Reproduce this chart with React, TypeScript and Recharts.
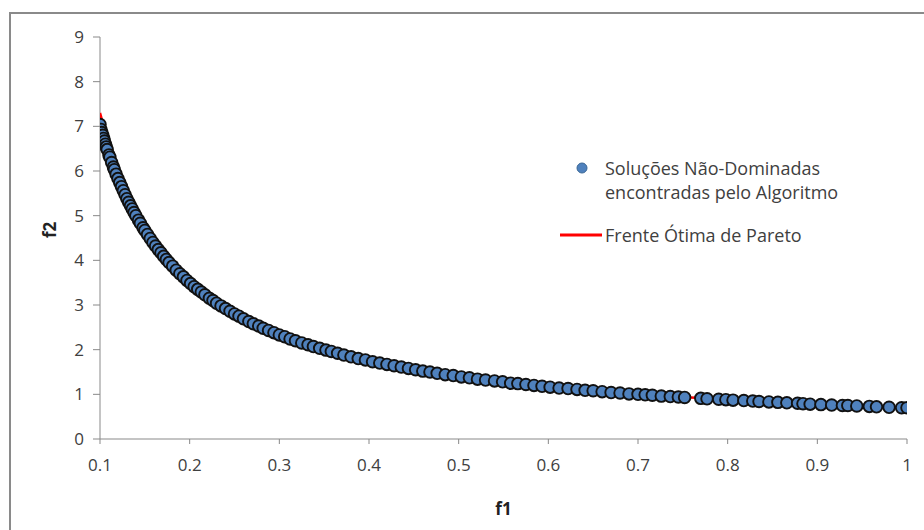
import { Scatter, ScatterChart, XAxis, YAxis } from 'recharts'

// non-dominated solutions
const solF1 = [
  0.100, 0.101, 0.102, 0.103, 0.104, 0.105, 0.106, 0.107, 0.108, 0.110,
  0.111, 0.113, 0.115, 0.116, 0.118, 0.120, 0.122, 0.124, 0.126, 0.128,
  0.130, 0.132, 0.134, 0.136, 0.138, 0.140, 0.143, 0.145, 0.148, 0.150,
  0.153, 0.156, 0.159, 0.162, 0.165, 0.168, 0.171, 0.174, 0.177, 0.181,
  0.185, 0.189, 0.193, 0.197, 0.201, 0.205, 0.209, 0.213, 0.217, 0.222,
  0.226, 0.230, 0.235, 0.240, 0.245, 0.250, 0.255, 0.260, 0.266, 0.271,
  0.277, 0.282, 0.288, 0.294, 0.300, 0.306, 0.312, 0.318, 0.325, 0.332,
  0.338, 0.345, 0.352, 0.358, 0.365, 0.372, 0.380, 0.388, 0.396, 0.404,
  0.412, 0.420, 0.428, 0.436, 0.444, 0.452, 0.460, 0.468, 0.476, 0.485,
  0.494, 0.503, 0.512, 0.521, 0.530, 0.540, 0.549, 0.558, 0.566, 0.575,
  0.584, 0.593, 0.602, 0.612, 0.622, 0.632, 0.641, 0.650, 0.660, 0.670,
  0.680, 0.690, 0.700, 0.708, 0.716, 0.726, 0.736, 0.745, 0.752, 0.770,
  0.777, 0.790, 0.798, 0.806, 0.818, 0.828, 0.835, 0.846, 0.856, 0.866,
  0.878, 0.884, 0.892, 0.904, 0.916, 0.928, 0.934, 0.944, 0.958, 0.966,
  0.980, 0.994, 1.000,
]
const solF2 = [
  7.04, 6.93, 6.86, 6.80, 6.73, 6.67, 6.60, 6.54, 6.48, 6.36,
  6.31, 6.19, 6.09, 6.03, 5.93, 5.83, 5.74, 5.65, 5.56, 5.47,
  5.38, 5.30, 5.22, 5.15, 5.07, 5.00, 4.90, 4.83, 4.73, 4.67,
  4.58, 4.49, 4.40, 4.32, 4.24, 4.17, 4.09, 4.02, 3.95, 3.87,
  3.78, 3.70, 3.63, 3.55, 3.48, 3.41, 3.35, 3.29, 3.23, 3.15,
  3.10, 3.04, 2.98, 2.92, 2.86, 2.80, 2.75, 2.69, 2.63, 2.58,
  2.53, 2.48, 2.43, 2.38, 2.33, 2.29, 2.24, 2.20, 2.15, 2.11,
  2.07, 2.03, 1.99, 1.96, 1.92, 1.88, 1.84, 1.80, 1.77, 1.73,
  1.70, 1.67, 1.64, 1.61, 1.58, 1.55, 1.52, 1.50, 1.47, 1.44,
  1.42, 1.39, 1.37, 1.34, 1.32, 1.30, 1.28, 1.25, 1.24, 1.22,
  1.20, 1.18, 1.16, 1.14, 1.13, 1.11, 1.09, 1.08, 1.06, 1.04,
  1.03, 1.01, 1.00, 0.99, 0.98, 0.96, 0.95, 0.94, 0.93, 0.91,
  0.90, 0.89, 0.88, 0.87, 0.86, 0.85, 0.84, 0.83, 0.82, 0.81,
  0.80, 0.79, 0.78, 0.77, 0.76, 0.75, 0.75, 0.74, 0.73, 0.72,
  0.71, 0.70, 0.70,
]

// optimal pareto front
const frontF1 = [0.1, 0.12, 0.15, 0.2, 0.25, 0.3, 0.4, 0.5, 0.6, 0.7, 0.8, 0.9, 1.0]
const frontF2 = [7.3, 5.83, 4.67, 3.5, 2.8, 2.33, 1.75, 1.4, 1.17, 1.0, 0.88, 0.78, 0.7]

const xTicks = [0.1, 0.2, 0.3, 0.4, 0.5, 0.6, 0.7, 0.8, 0.9, 1]
const yTicks = [0, 1, 2, 3, 4, 5, 6, 7, 8, 9]

const solutions = solF1.map((x, i) => ({ f1: x, f2: solF2[i] }))
const front = frontF1.map((x, i) => ({ f1: x, f2: frontF2[i] }))

const font = 'Open Sans, sans-serif'
const textColor = '#404040'
const axisColor = '#898989'

const Dot = (props: any) => (
  <circle cx={props.cx} cy={props.cy} r={5.8} fill="#4F81BD" stroke="#111" strokeWidth={1.9} />
)

const LegendBox = () => (
  <div style={{ fontFamily: font, fontSize: 18, color: textColor, lineHeight: '24px' }}>
    <div style={{ display: 'flex', alignItems: 'flex-start' }}>
      <svg width={50} height={24}>
        <circle cx={27} cy={12} r={5} fill="#4F81BD" stroke="#3A6796" strokeWidth={1} />
      </svg>
      <div>
        Soluções Não-Dominadas
        <br />
        encontradas pelo Algoritmo
      </div>
    </div>
    <div style={{ display: 'flex', alignItems: 'center', marginTop: 19 }}>
      <svg width={50} height={24}>
        <line x1={5} y1={12} x2={47} y2={12} stroke="#FF0000" strokeWidth={3} />
      </svg>
      <div>Frente Ótima de Pareto</div>
    </div>
  </div>
)

export default function App() {
  return (
    <div style={{ position: 'absolute', left: 0, top: 0, width: 924, height: 530, overflow: 'hidden', background: '#fff' }}>
      <div
        style={{
          position: 'absolute',
          left: 9,
          top: 12,
          width: 940,
          height: 540,
          border: '2px solid #8a8a8a',
        }}
      />
      <div style={{ position: 'absolute', left: 0, top: 0 }}>
        <ScatterChart width={924} height={530} margin={{ top: 37, right: 17, left: 40, bottom: 51 }}>
          <XAxis
            type="number"
            dataKey="f1"
            domain={[0.1, 1]}
            ticks={xTicks}
            allowDataOverflow
            height={40}
            stroke={axisColor}
            tickSize={5}
            tickMargin={15}
            tick={{ fill: textColor, fontSize: 17, fontFamily: font }}
            label={{ value: 'f1', position: 'insideBottom', offset: -36, fill: '#222', fontSize: 17, fontWeight: 'bold', fontFamily: font }}
          />
          <YAxis
            type="number"
            dataKey="f2"
            domain={[0, 9]}
            ticks={yTicks}
            width={60}
            stroke={axisColor}
            tickSize={7}
            tickMargin={9}
            tick={{ fill: textColor, fontSize: 17, fontFamily: font }}
            label={{ value: 'f2', angle: -90, position: 'insideLeft', offset: 0, dx: 10, fill: '#222', fontSize: 17, fontWeight: 'bold', fontFamily: font }}
          />
          <Scatter
            name="Frente Ótima de Pareto"
            data={front}
            line={{ stroke: '#FF0000', strokeWidth: 2.5 }}
            lineType="joint"
            shape={() => <g />}
            isAnimationActive={false}
          />
          <Scatter
            name="Soluções Não-Dominadas encontradas pelo Algoritmo"
            data={solutions}
            shape={Dot}
            isAnimationActive={false}
          />
        </ScatterChart>
      </div>
      <div style={{ position: 'absolute', left: 555, top: 156, width: 340 }}>
        <LegendBox />
      </div>
    </div>
  )
}
